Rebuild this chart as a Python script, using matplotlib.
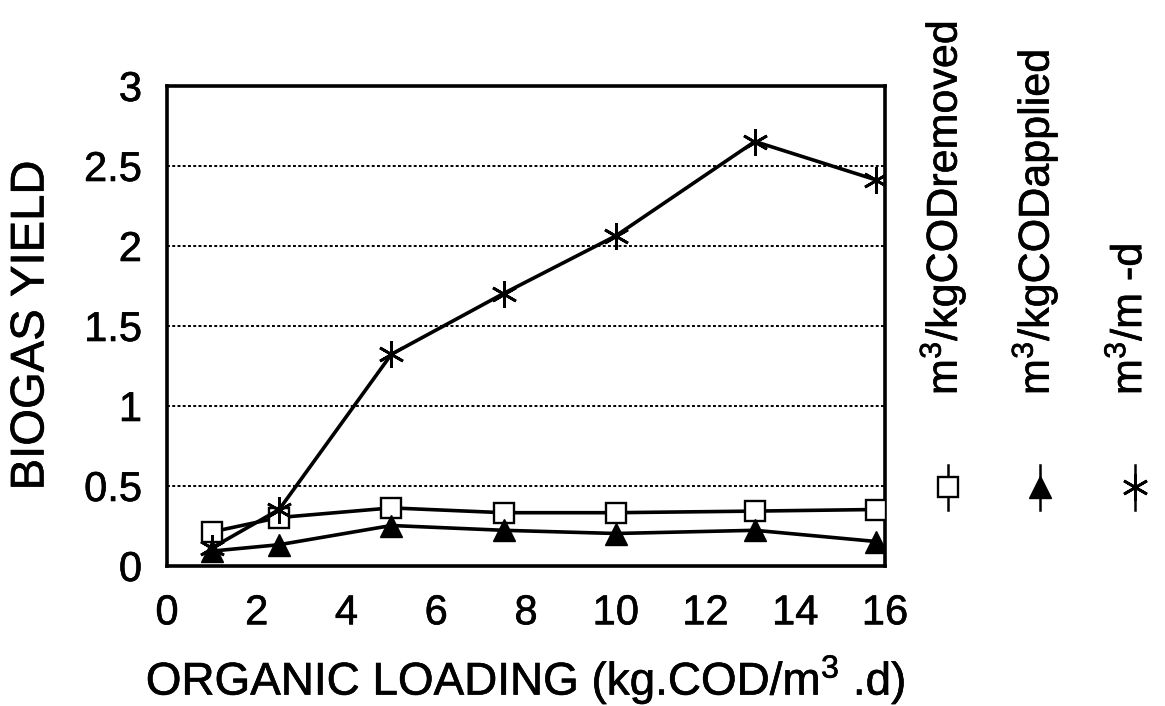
import matplotlib
matplotlib.use("Agg")
import matplotlib.pyplot as plt
from matplotlib.lines import Line2D
import matplotlib.patheffects as pe

plt.rcParams['font.family'] = ['Liberation Sans', 'DejaVu Sans']
plt.rcParams['mathtext.fontset'] = 'custom'
plt.rcParams['mathtext.rm'] = 'Liberation Sans'
plt.rcParams['mathtext.it'] = 'Liberation Sans'

# data
loading = [1, 2.5, 5, 7.5, 10, 13.1, 15.8]
yield_removed = [0.21, 0.30, 0.36, 0.33, 0.33, 0.34, 0.35]
yield_applied = [0.09, 0.13, 0.25, 0.22, 0.20, 0.22, 0.15]
yield_volume = [0.11, 0.35, 1.32, 1.70, 2.06, 2.65, 2.41]
series_labels = ['m$^3$/kgCODremoved', 'm$^3$/kgCODapplied', 'm$^3$/m -d']
xticks = [0, 2, 4, 6, 8, 10, 12, 14, 16]
yticks = [0, 0.5, 1, 1.5, 2, 2.5, 3]
ytick_labels = ['0', '0.5', '1', '1.5', '2', '2.5', '3']

W, H = 1165, 706
fig = plt.figure(figsize=(W / 100, H / 100), dpi=100)
ax = fig.add_axes([167 / W, 1 - 565.5 / H, (885 - 167) / W, 480 / H])

thick = [pe.withStroke(linewidth=0.45, foreground='black')]

lw = 2.6
styles = [
    dict(marker='s', markersize=14.5, markerfacecolor='white', markeredgecolor='black', markeredgewidth=1.7),
    dict(marker='^', markersize=16, markerfacecolor='black', markeredgecolor='black'),
    dict(marker=(6, 2, 0), markersize=19, markeredgecolor='black', markeredgewidth=2.0),
]
series = [yield_removed, yield_applied, yield_volume]
for ys, st in zip(series, styles):
    ax.plot(loading, ys, color='black', linewidth=lw, zorder=3, **st)

ax.set_xlim(0, 16)
ax.set_ylim(0, 3)
ax.set_xticks(xticks)
ax.set_yticks(yticks)
ax.set_yticklabels(ytick_labels)
ax.tick_params(length=0, labelsize=30)
ax.tick_params(axis='y', pad=18)
ax.tick_params(axis='x', pad=20)
for t in ax.get_xticklabels() + ax.get_yticklabels():
    t.set_path_effects(thick)
ax.yaxis.grid(True, linestyle=(0, (1.5, 1.2)), color='black', linewidth=1.4)
ax.set_axisbelow(True)
for s in ax.spines.values():
    s.set_linewidth(2.6)

xl = ax.set_xlabel('ORGANIC LOADING (kg.COD/m$^3$ .d)', fontsize=33, labelpad=14)
yl = ax.set_ylabel('BIOGAS YIELD', fontsize=34, labelpad=22)
xl.set_path_effects(thick)
yl.set_path_effects(thick)

# rotated legend on the right
leg_x = [948, 1040, 1135]
for lx, lab, st in zip(leg_x, series_labels, styles):
    t = fig.text((lx - 5) / W, 1 - 395 / H, lab, rotation=90, fontsize=31,
                 ha='center', va='bottom')
    t.set_path_effects(thick)
    ln = Line2D([lx / W, lx / W], [1 - 465 / H, 1 - 510 / H], transform=fig.transFigure,
                color='black', linewidth=1.8)
    fig.add_artist(ln)
    mk = Line2D([lx / W], [1 - 487 / H], transform=fig.transFigure, linestyle='none', **st)
    fig.add_artist(mk)

fig.savefig('out.png', dpi=100)
